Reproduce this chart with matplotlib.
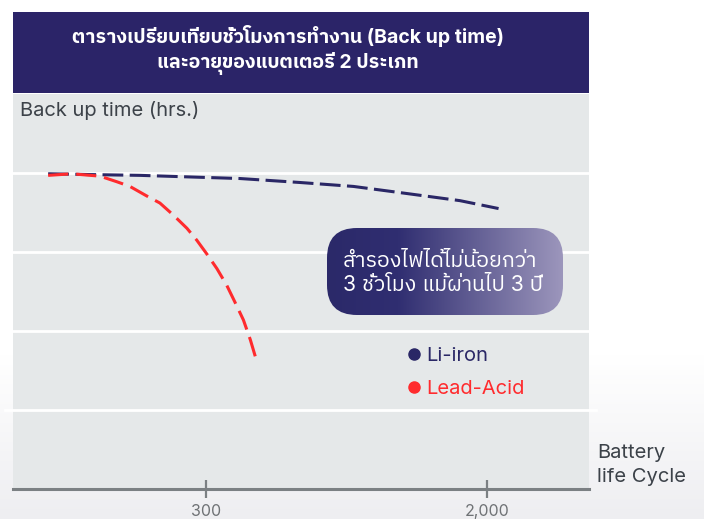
import matplotlib
matplotlib.use("Agg")
import matplotlib.pyplot as plt
import numpy as np
from matplotlib import font_manager, ft2font
from matplotlib.colors import LinearSegmentedColormap
from matplotlib.lines import Line2D
from matplotlib.patches import FancyBboxPatch, Rectangle

# --- data (schematic curves) ---
cycle_ticks = [3.35, 8.23]
cycle_labels = ["300", "2,000"]
hour_grid = [1, 2, 3, 4]

li_x = [0.61, 1.34, 2.21, 3.07, 3.94, 4.98, 5.91, 6.84, 7.76, 8.43]
li_y = [3.99, 3.98, 3.97, 3.95, 3.93, 3.88, 3.83, 3.74, 3.65, 3.55]

lead_x = [0.61, 1.02, 1.51, 1.80, 2.03, 2.32, 2.55, 2.78, 3.02, 3.19, 3.36, 3.54,
          3.71, 3.85, 4.00, 4.12, 4.23]
lead_y = [3.97, 3.99, 3.96, 3.89, 3.83, 3.71, 3.62, 3.47, 3.30, 3.15, 2.98, 2.79,
          2.58, 2.37, 2.14, 1.89, 1.62]

series_names = ["Li-iron", "Lead-Acid"]
series_colors = ["#2a2766", "#ff2b2e"]

title = "ตารางเปรียบเทียบชั่วโมงการทำงาน (Back up time)\nและอายุของแบตเตอรี่ 2 ประเภท"
note = "สำรองไฟได้ไม่น้อยกว่า\n3 ชั่วโมง แม้ผ่านไป 3 ปี"


def find_thai_font():
    found = []
    for f in font_manager.fontManager.ttflist:
        try:
            cmap = ft2font.FT2Font(f.fname).get_charmap()
        except Exception:
            continue
        if 0x0E01 in cmap:
            found.append(f.name)
    found = sorted(set(found), key=lambda n: ("Thai" not in n, "Sans" not in n, "Looped" in n, n))
    return found[0] if found else "DejaVu Sans"


THAI = find_thai_font()
LATIN = "Inter"
FAM = [LATIN, THAI, "DejaVu Sans"]
plt.rcParams["font.family"] = FAM

W, H = 704, 519
fig = plt.figure(figsize=(W / 100, H / 100), dpi=100)

# background: white with a soft grey fade at the bottom
bg = fig.add_axes([0, 0, 1, 1], zorder=0)
bg.set_xlim(0, W)
bg.set_ylim(H, 0)
bg.axis("off")
fade = np.linspace(0, 1, 200)[:, None]
bg_cmap = LinearSegmentedColormap.from_list("bg", ["#ffffff", "#eeeef1"])
bg.imshow(fade, cmap=bg_cmap, extent=(0, W, H, 355), aspect="auto")

# chart panel
L, R, T, B = 13, 589, 94, 489
ax = fig.add_axes([L / W, 1 - B / H, (R - L) / W, (B - T) / H], zorder=1)
ax.set_facecolor("#e5e8e9")
ax.set_xlim(0, 10)
ax.set_ylim(0, 5)
for s in ["top", "right", "left"]:
    ax.spines[s].set_visible(False)
ax.spines["bottom"].set_color("#7b8083")
ax.spines["bottom"].set_linewidth(2.2)
ax.set_yticks([])
ax.set_xticks(cycle_ticks)
ax.set_xticklabels(cycle_labels, fontsize=11.5, color="#6f7275")
ax.tick_params(axis="x", direction="inout", length=13, width=1.6, color="#7b8083", pad=4)

for h in hour_grid:
    ax.axhline(h, xmin=-8 / 576, xmax=1 + 7 / 576, color="white", lw=2, clip_on=False, zorder=1)

ax.plot(li_x, li_y, color=series_colors[0], lw=2.2, linestyle=(0, (6.8, 2.1)),
        solid_capstyle="butt", zorder=3)
ax.plot(lead_x, lead_y, color=series_colors[1], lw=2.2, linestyle=(0, (6.6, 2.6)),
        zorder=3)

handles = [Line2D([], [], ls="none", marker="o", ms=8, color=c) for c in series_colors]
leg = ax.legend(handles, series_names, loc="upper left", bbox_to_anchor=(0.668, 0.385),
                frameon=False, handlelength=0.6, handletextpad=0.3, labelspacing=0.72,
                fontsize=14.5, labelcolor=series_colors, borderpad=0)

ax.text(7 / 576, 1 - 17 / 395, "Back up time (hrs.)", transform=ax.transAxes,
        fontsize=14.5, color="#3c4249", va="center", ha="left")

# overlay for title box, note bubble and axis name
ov = fig.add_axes([0, 0, 1, 1], zorder=2)
ov.set_xlim(0, W)
ov.set_ylim(H, 0)
ov.axis("off")

ov.add_patch(Rectangle((13, 12), 576, 80.5, color="#2b2468", lw=0))
ov.text(288, 50, title, color="white", fontsize=14, fontweight="bold",
        ha="center", va="center", linespacing=1.35)

bx, by, bw, bh = 327, 228, 236, 87
bubble = FancyBboxPatch((bx, by), bw, bh, boxstyle="round,pad=0,rounding_size=30",
                        facecolor="none", edgecolor="none")
ov.add_patch(bubble)
grad_cmap = LinearSegmentedColormap.from_list(
    "note", [(0, "#2b2969"), (0.3, "#302e71"), (1, "#9c96bc")])
img = ov.imshow(np.linspace(0, 1, 256)[None, :], cmap=grad_cmap,
                extent=(bx, bx + bw, by + bh, by), aspect="auto", zorder=3)
img.set_clip_path(bubble)
ov.text(343, 273, note, color="white", fontsize=15.3, ha="left", va="center",
        linespacing=1.3, zorder=4)

ov.text(597, 465, "Battery\nlife Cycle", color="#3c4249", fontsize=14.5,
        ha="left", va="center", linespacing=1.5)

fig.savefig("out.png", dpi=100)
